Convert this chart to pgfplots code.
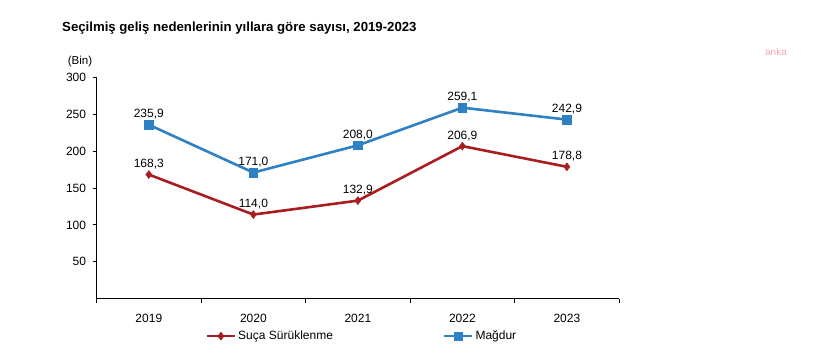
\documentclass[border=0pt]{standalone}
\usepackage{fontspec}
\setmainfont{Liberation Sans}
\usepackage{pgfplots}
\pgfplotsset{compat=1.18}
\definecolor{cblue}{RGB}{48,128,196}
\definecolor{cred}{RGB}{168,30,32}
\definecolor{cpink}{RGB}{240,170,175}
\begin{document}
\begin{tikzpicture}[x=1pt,y=1pt]
\useasboundingbox (0,0) rectangle (838,363);
\node[anchor=west,font=\fontsize{13.2}{15}\selectfont\bfseries,inner sep=0pt] at (62,335) {Seçilmiş geliş nedenlerinin yıllara göre sayısı, 2019-2023};
\node[font=\fontsize{11.5}{13}\selectfont,inner sep=0pt] at (80,301.5) {(Bin)};
\node[font=\fontsize{10}{12}\selectfont,text=cpink,inner sep=0pt] at (776,311) {anka};
\begin{axis}[
  at={(92.4,87.5)}, anchor=south west,
  width=522.6pt, height=221pt, scale only axis,
  xmin=-0.5, xmax=4.5, ymin=0, ymax=300,
  axis x line=bottom, axis y line=left,
  axis line style={-, black, line width=0.8pt},
  xtick={0,1,2,3,4},
  xticklabels={2019,2020,2021,2022,2023},
  major x tick style={draw=none},
  minor xtick={-0.5,0.5,1.5,2.5,3.5,4.5},
  minor x tick style={black, line width=0.8pt},
  minor tick length=4pt,
  ytick={50,100,150,200,250,300},
  major tick length=4pt,
  y tick style={black, line width=0.8pt},
  tick align=outside,
  tick label style={font=\fontsize{12}{14}\selectfont},
  /pgf/number format/assume math mode=true,
  xticklabel style={yshift=-8pt},
  yticklabel style={xshift=-3pt},
  nodes near coords,
  nodes near coords style={font=\fontsize{12}{14}\selectfont, text=black, anchor=south, yshift=2pt,
    /pgf/number format/.cd, fixed, fixed zerofill, precision=1, use comma, assume math mode=true},
  clip=false,
  legend style={draw=none, fill=none, legend columns=2, at={(0.2083,-0.17)}, anchor=west,
    font=\fontsize{12}{14}\selectfont, inner sep=0pt, cells={anchor=west, inner xsep=1pt}},
  /tikz/every even column/.append style={column sep=108pt},
  legend cell align=left,
  legend image code/.code={\draw[mark repeat=2,mark phase=2,#1] plot coordinates {(0pt,0pt)(14pt,0pt)(28pt,0pt)};},
]
\addplot[cred, line width=2.6pt, mark=diamond*, mark size=4pt, mark options={solid, line width=0.5pt, fill=cred}]
  coordinates {(0,168.3) (1,114.0) (2,132.9) (3,206.9) (4,178.8)};
\addlegendentry{Suça Sürüklenme}
\addplot[cblue, line width=2.6pt, mark=square*, mark size=4.3pt, mark options={solid, line width=0.5pt, fill=cblue}]
  coordinates {(0,235.9) (1,171.0) (2,208.0) (3,259.1) (4,242.9)};
\addlegendentry{Mağdur}
\end{axis}
\end{tikzpicture}
\end{document}
